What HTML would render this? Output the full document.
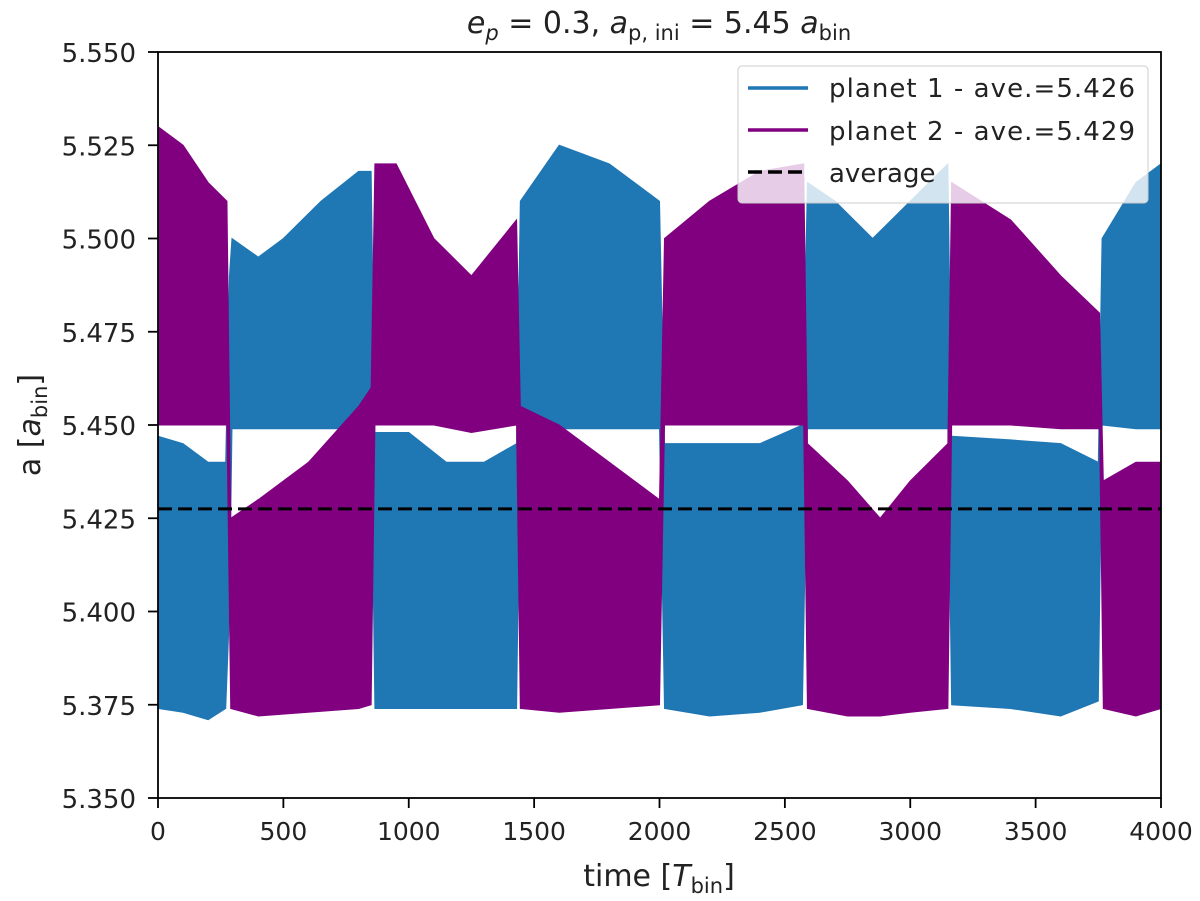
<!DOCTYPE html>
<html><head><meta charset="utf-8"><style>
body{margin:0;background:#fff}
svg{display:block;font-family:"DejaVu Sans","Liberation Sans",sans-serif}
</style></head><body>
<svg id="chart" width="1200" height="901"></svg>
<script>
const xTicks=[0,500,1000,1500,2000,2500,3000,3500,4000];
const yTicks=[5.350,5.375,5.400,5.425,5.450,5.475,5.500,5.525,5.550];
const p1T=[0,100,200,270,285,295,400,500,650,800,850,865,1000,1150,1300,1430,1445,1600,1800,2000,2020,2200,2400,2570,2590,2700,2850,3000,3150,3165,3400,3600,3750,3765,3900,4000];
const p1Lo=[5.374,5.373,5.371,5.374,5.40,5.449,5.449,5.449,5.449,5.449,5.449,5.374,5.374,5.374,5.374,5.374,5.449,5.449,5.449,5.449,5.374,5.372,5.373,5.375,5.449,5.449,5.449,5.449,5.449,5.375,5.374,5.372,5.376,5.45,5.449,5.449];
const p1Hi=[5.447,5.445,5.44,5.44,5.49,5.50,5.495,5.50,5.51,5.518,5.518,5.448,5.448,5.44,5.44,5.445,5.51,5.525,5.52,5.51,5.445,5.445,5.445,5.45,5.515,5.51,5.50,5.51,5.52,5.447,5.446,5.445,5.44,5.50,5.515,5.52];
const p2T=[0,100,200,275,290,400,600,800,850,865,950,1100,1250,1430,1445,1600,1800,2000,2020,2200,2400,2575,2590,2750,2880,3000,3150,3165,3400,3600,3755,3770,3900,4000];
const p2Lo=[5.45,5.45,5.45,5.45,5.374,5.372,5.373,5.374,5.375,5.45,5.45,5.45,5.448,5.45,5.374,5.373,5.374,5.375,5.45,5.45,5.45,5.45,5.374,5.372,5.372,5.373,5.374,5.45,5.45,5.449,5.449,5.374,5.372,5.374];
const p2Hi=[5.53,5.525,5.515,5.51,5.425,5.43,5.44,5.455,5.46,5.52,5.52,5.50,5.49,5.505,5.455,5.45,5.44,5.43,5.50,5.51,5.518,5.52,5.445,5.435,5.425,5.435,5.445,5.515,5.505,5.49,5.48,5.435,5.44,5.44];
const avgVal=[5.4275];
const series=[{t:p1T,lo:p1Lo,hi:p1Hi,color:'#1f77b4',id:'planet-1'},{t:p2T,lo:p2Lo,hi:p2Hi,color:'#800080',id:'planet-2'}];
const L=158,R=1161,T=52,B=798,x0=0,x1=4000,y0=5.35,y1=5.55;
const X=v=>L+(v-x0)/(x1-x0)*(R-L);
const Y=v=>B-(v-y0)/(y1-y0)*(B-T);
const svg=document.getElementById('chart');
const NS='http://www.w3.org/2000/svg';
function mk(tag,attrs,parent){const e=document.createElementNS(NS,tag);for(const k in attrs)e.setAttribute(k,attrs[k]);(parent||svg).appendChild(e);return e;}
series.forEach(s=>{
  let pts=s.t.map((t,i)=>X(t)+','+Y(s.hi[i]));
  for(let i=s.t.length-1;i>=0;i--)pts.push(X(s.t[i])+','+Y(s.lo[i]));
  const p=mk('polygon',{points:pts.join(' '),fill:s.color,stroke:s.color,'stroke-width':1});
  
  
});
const av=mk('line',{x1:X(x0),x2:X(x1),y1:Y(avgVal[0]),y2:Y(avgVal[0]),stroke:'#000','stroke-width':3,'stroke-dasharray':'14,6'});


const frame=mk('rect',{x:L,y:T,width:R-L,height:B-T,fill:'none',stroke:'#000','stroke-width':1.8});


xTicks.forEach(v=>{
  mk('line',{x1:X(v),x2:X(v),y1:B,y2:B+10,stroke:'#000','stroke-width':1.8});
  const t=mk('text',{x:X(v),y:B+42,'text-anchor':'middle','font-size':25,fill:'#222'});t.textContent=v;
  
  
});
yTicks.forEach(v=>{
  mk('line',{x1:L-10,x2:L,y1:Y(v),y2:Y(v),stroke:'#000','stroke-width':1.8});
  const t=mk('text',{x:L-22,y:Y(v)+10,'text-anchor':'end','font-size':26,fill:'#222'});t.textContent=v.toFixed(3);
  
  
});
</script>
<svg width="1200" height="901" style="position:absolute;left:0;top:0" font-family="DejaVu Sans, Liberation Sans, sans-serif">
<text x="659" y="33" text-anchor="middle" font-size="30" fill="#222"><tspan font-style="italic">e</tspan><tspan font-size="21" dy="7" font-style="italic">p</tspan><tspan dy="-7"> = 0.3, </tspan><tspan font-style="italic">a</tspan><tspan font-size="21" dy="7">p, ini</tspan><tspan dy="-7"> = 5.45 </tspan><tspan font-style="italic">a</tspan><tspan font-size="21" dy="7">bin</tspan></text>
<text x="659" y="886" text-anchor="middle" font-size="30" fill="#222">time [<tspan font-style="italic">T</tspan><tspan font-size="21" dy="7">bin</tspan><tspan dy="-7">]</tspan></text>
<text transform="translate(40,425) rotate(-90)" text-anchor="middle" font-size="30" fill="#222">a [<tspan font-style="italic">a</tspan><tspan font-size="21" dy="7">bin</tspan><tspan dy="-7">]</tspan></text>
<g>
<rect x="738" y="66" width="410" height="137" rx="4" fill="#fff" fill-opacity="0.8" stroke="#ccc"/>
<line x1="748" y1="88" x2="808" y2="88" stroke="#1f77b4" stroke-width="3.5"/>
<text x="829" y="97" font-size="26" fill="#222" textLength="306">planet 1 - ave.=5.426</text>
<line x1="748" y1="130" x2="808" y2="130" stroke="#800080" stroke-width="3.5"/>
<text x="829" y="140" font-size="26" fill="#222" textLength="306">planet 2 - ave.=5.429</text>
<line x1="748" y1="172" x2="808" y2="172" stroke="#000" stroke-width="3.5" stroke-dasharray="14,6"/>
<text x="829" y="182" font-size="26" fill="#222">average</text>
</g>
</svg>
</body></html>
